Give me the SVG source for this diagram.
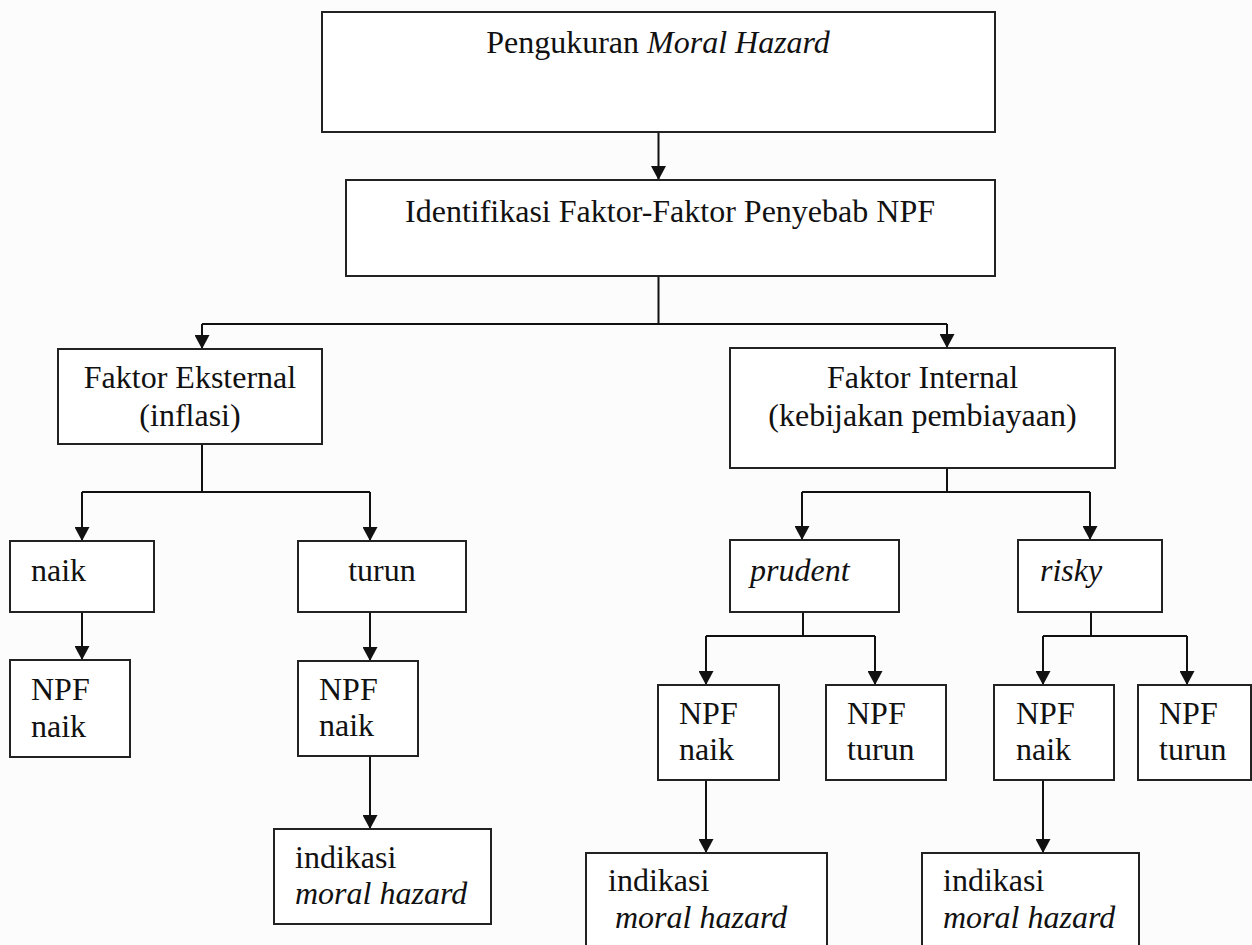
<svg xmlns="http://www.w3.org/2000/svg" width="1252" height="945" viewBox="0 0 1252 945">
<defs>
<marker id="ah" viewBox="0 0 14 15" markerWidth="14" markerHeight="15" refX="14" refY="7.5" orient="auto" markerUnits="userSpaceOnUse">
<path d="M0,0 L14,7.5 L0,15 Z" fill="#111"/>
</marker>
<style>
.box{fill:#fff;stroke:#222;stroke-width:2}
.t{font-family:"Liberation Serif","Times New Roman",serif;font-size:32px;fill:#111}
.c{text-anchor:middle}
.i{font-style:italic}
.ln{fill:none;stroke:#111;stroke-width:2}
.ar{fill:none;stroke:#111;stroke-width:2;marker-end:url(#ah)}
</style>
</defs>
<rect x="0" y="0" width="1252" height="945" fill="#fcfcfc"/>

<g id="connectors">
<path class="ar" d="M658.5,132 V180"/>
<path class="ln" d="M658.5,276 V324 M202,324 H947"/>
<path class="ar" d="M202,324 V349"/>
<path class="ar" d="M947,324 V348"/>
<path class="ln" d="M202,444 V492 M82,492 H370"/>
<path class="ar" d="M82,492 V541"/>
<path class="ar" d="M370,492 V541"/>
<path class="ar" d="M82,612 V660"/>
<path class="ar" d="M370,612 V661"/>
<path class="ar" d="M370,756 V829"/>
<path class="ln" d="M947,468 V492 M802,492 H1090"/>
<path class="ar" d="M802,492 V540"/>
<path class="ar" d="M1090,492 V540"/>
<path class="ln" d="M803,612 V636 M706,636 H875"/>
<path class="ar" d="M706,636 V685"/>
<path class="ar" d="M875,636 V685"/>
<path class="ln" d="M1091,612 V636 M1043,636 H1187"/>
<path class="ar" d="M1043,636 V685"/>
<path class="ar" d="M1187,636 V685"/>
<path class="ar" d="M706,780 V853"/>
<path class="ar" d="M1043,780 V853"/>
</g>

<g id="n-pengukuran">
<rect class="box" x="322" y="12" width="673" height="120"/>
<text class="t c" x="658" y="53">Pengukuran <tspan class="i">Moral Hazard</tspan></text>
</g>
<g id="n-identifikasi">
<rect class="box" x="346" y="180" width="649" height="96"/>
<text class="t c" x="670" y="222">Identifikasi Faktor-Faktor Penyebab NPF</text>
</g>
<g id="n-eksternal">
<rect class="box" x="58" y="349" width="264" height="95"/>
<text class="t c" x="190" y="388">Faktor Eksternal</text>
<text class="t c" x="190" y="426">(inflasi)</text>
</g>
<g id="n-internal">
<rect class="box" x="730" y="348" width="385" height="120"/>
<text class="t c" x="922.5" y="388">Faktor Internal</text>
<text class="t c" x="922.5" y="426">(kebijakan pembiayaan)</text>
</g>
<g id="n-naik">
<rect class="box" x="10" y="541" width="144" height="71"/>
<text class="t" x="31" y="581">naik</text>
</g>
<g id="n-turun">
<rect class="box" x="298" y="541" width="168" height="71"/>
<text class="t c" x="382" y="581">turun</text>
</g>
<g id="n-npf-naik-1">
<rect class="box" x="10" y="660" width="120" height="97"/>
<text class="t" x="31" y="700">NPF</text>
<text class="t" x="31" y="737">naik</text>
</g>
<g id="n-npf-naik-2">
<rect class="box" x="298" y="661" width="120" height="95"/>
<text class="t" x="319" y="700">NPF</text>
<text class="t" x="319" y="736">naik</text>
</g>
<g id="n-indikasi-1">
<rect class="box" x="274" y="829" width="217" height="95"/>
<text class="t" x="295" y="868">indikasi</text>
<text class="t i" x="295" y="904">moral hazard</text>
</g>
<g id="n-prudent">
<rect class="box" x="730" y="540" width="169" height="72"/>
<text class="t i" x="750" y="581">prudent</text>
</g>
<g id="n-risky">
<rect class="box" x="1018" y="540" width="144" height="72"/>
<text class="t i" x="1040" y="581">risky</text>
</g>
<g id="n-npf-naik-3">
<rect class="box" x="658" y="685" width="121" height="95"/>
<text class="t" x="679" y="724">NPF</text>
<text class="t" x="679" y="760">naik</text>
</g>
<g id="n-npf-turun-1">
<rect class="box" x="826" y="685" width="120" height="95"/>
<text class="t" x="847" y="724">NPF</text>
<text class="t" x="847" y="760">turun</text>
</g>
<g id="n-npf-naik-4">
<rect class="box" x="994" y="685" width="120" height="95"/>
<text class="t" x="1016" y="724">NPF</text>
<text class="t" x="1016" y="760">naik</text>
</g>
<g id="n-npf-turun-2">
<rect class="box" x="1138" y="685" width="113" height="95"/>
<text class="t" x="1159" y="724">NPF</text>
<text class="t" x="1159" y="760">turun</text>
</g>
<g id="n-indikasi-2">
<rect class="box" x="586" y="853" width="241" height="100"/>
<text class="t" x="608" y="891">indikasi</text>
<text class="t i" x="615" y="928">moral hazard</text>
</g>
<g id="n-indikasi-3">
<rect class="box" x="922" y="853" width="217" height="100"/>
<text class="t" x="943" y="891">indikasi</text>
<text class="t i" x="943" y="928">moral hazard</text>
</g>
</svg>
